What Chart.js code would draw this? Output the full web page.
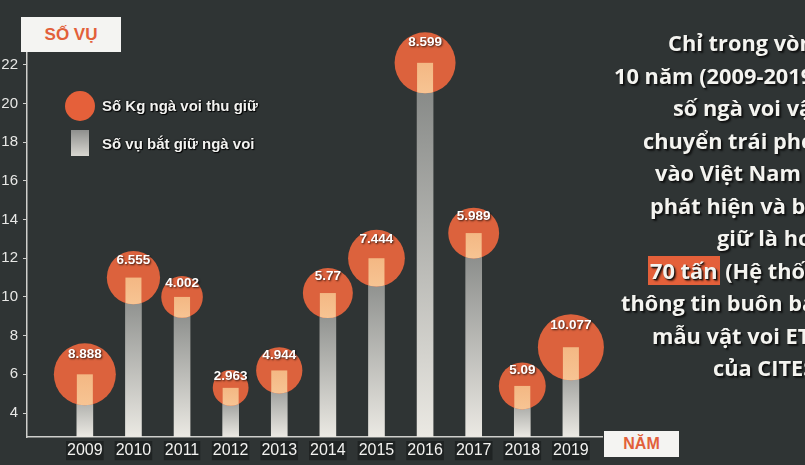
<!DOCTYPE html>
<html>
<head>
<meta charset="utf-8">
<script src="https://cdn.jsdelivr.net/npm/chart.js"></script>
<style>
  html, body { margin: 0; padding: 0; background: #2f3434; overflow: hidden; }
  #wrap { position: relative; width: 805px; height: 465px; overflow: hidden; background: #2f3434; }
  canvas { position: absolute; left: 0; top: 0; }
  .box { position: absolute; background: #f4f4f2; color: #e2603a; font-family: "Liberation Sans", Arial, sans-serif; font-weight: bold; text-align: center; }
  .leg { position: absolute; color: #f2f2f0; font-family: "Liberation Sans", Arial, sans-serif; font-weight: bold; font-size: 15px; line-height: 20px; white-space: nowrap; text-shadow: 1px 1px 1px #000, 0 0 2px #000; }
  .ln { position: absolute; color: #f4f4f0; font-family: "Open Sans", sans-serif; font-weight: 700; font-size: 21.8px; line-height: 26px; white-space: nowrap; text-shadow: 1px 1px 1px #111, 2px 2px 2px rgba(0,0,0,0.6); }
  .hl { background: #e4603a; padding: 0 2px; margin-left: -2px; }
</style>
</head>
<body>
<div id="wrap">
  <canvas id="c" width="805" height="465"></canvas>
  <div class="box" style="left:21px;top:17px;width:100px;height:35px;line-height:35px;font-size:17px;">SỐ VỤ</div>
  <div class="box" style="left:604px;top:431px;width:75px;height:26px;line-height:26px;font-size:16px;">NĂM</div>
  <div style="position:absolute;left:65px;top:91px;width:30px;height:30px;border-radius:50%;background:#e5603a;"></div>
  <div class="leg" style="left:102px;top:96px;">Số Kg ngà voi thu giữ</div>
  <div style="position:absolute;left:71px;top:130px;width:18px;height:26px;background:linear-gradient(to bottom,#8e8f8d,#d9d7d1);"></div>
  <div class="leg" style="left:102px;top:134px;">Số vụ bắt giữ ngà voi</div>
  <div class="ln" style="left:668px;top:30px;">Chỉ trong vòng</div>
  <div class="ln" style="left:614px;top:63px;">10 năm (2009-2019),</div>
  <div class="ln" style="left:673px;top:95px;">số ngà voi vận</div>
  <div class="ln" style="left:643px;top:128px;">chuyển trái phép</div>
  <div class="ln" style="left:655px;top:160px;">vào Việt Nam bị</div>
  <div class="ln" style="left:650px;top:193px;">phát hiện và bắt</div>
  <div class="ln" style="left:717px;top:225px;">giữ là hơn</div>
  <div class="ln" style="left:650px;top:258px;"><span class="hl">70 tấn</span> (Hệ thống</div>
  <div class="ln" style="left:621px;top:290px;">thông tin buôn bán</div>
  <div class="ln" style="left:652px;top:323px;">mẫu vật voi ETIS</div>
  <div class="ln" style="left:713px;top:355px;">của CITES)</div>
</div>
<script>
// ---- data ----
const years = [2009, 2010, 2011, 2012, 2013, 2014, 2015, 2016, 2017, 2018, 2019];
const yearLabels = ['2009', '2010', '2011', '2012', '2013', '2014', '2015', '2016', '2017', '2018', '2019'];
const cases = [6, 11, 10, 5.3, 6.2, 10.2, 12, 22.1, 13.3, 5.4, 7.4];      // Số vụ bắt giữ ngà voi
const kgTonnes = [8.888, 6.555, 4.002, 2.963, 4.944, 5.77, 7.444, 8.599, 5.989, 5.09, 10.077]; // Số Kg ngà voi thu giữ (nghìn kg)
const kgLabels = ['8.888', '6.555', '4.002', '2.963', '4.944', '5.77', '7.444', '8.599', '5.989', '5.09', '10.077'];
const yTicks = [4, 6, 8, 10, 12, 14, 16, 18, 20, 22];

const FONT = '"Liberation Sans", Arial, sans-serif';
const AXIS = '#cfcfcc';

const overlayPlugin = {
  id: 'overlay',
  afterDatasetsDraw(chart) {
    const ctx = chart.ctx;
    const bub = chart.getDatasetMeta(0);
    const bars = chart.getDatasetMeta(1);
    bub.data.forEach((pt, i) => {
      const bar = bars.data[i];
      const r = pt.options.radius;
      const p = bar.getProps(['x', 'y', 'base', 'width'], true);
      ctx.save();
      ctx.beginPath();
      ctx.arc(pt.x, pt.y, r, 0, Math.PI * 2);
      ctx.clip();
      const g = ctx.createLinearGradient(0, pt.y - r, 0, pt.y + r);
      g.addColorStop(0, '#f0ab74');
      g.addColorStop(1, '#f7c493');
      ctx.fillStyle = g;
      ctx.fillRect(p.x - p.width / 2, p.y, p.width, p.base - p.y);
      ctx.restore();
    });
    ctx.save();
    ctx.font = 'bold 13.5px ' + FONT;
    ctx.textAlign = 'center';
    ctx.textBaseline = 'middle';
    ctx.fillStyle = '#ffffff';
    ctx.shadowColor = 'rgba(0,0,0,0.75)';
    ctx.shadowBlur = 2;
    ctx.shadowOffsetX = 1;
    ctx.shadowOffsetY = 1;
    bub.data.forEach((pt, i) => {
      const r = pt.options.radius;
      ctx.fillText(kgLabels[i], pt.x, pt.y - r * 0.66);
    });
    ctx.restore();
  }
};

new Chart(document.getElementById('c'), {
  type: 'bar',
  data: {
    datasets: [
      {
        type: 'bubble',
        label: 'Số Kg ngà voi thu giữ',
        data: years.map((y, i) => ({ x: y, y: cases[i] })),
        radius: (c) => 10.4 * Math.sqrt(kgTonnes[c.dataIndex]),
        backgroundColor: '#dc623d',
        borderWidth: 0,
        hoverRadius: 0,
        clip: false,
        order: 1
      },
      {
        type: 'bar',
        label: 'Số vụ bắt giữ ngà voi',
        data: years.map((y, i) => ({ x: y, y: cases[i] })),
        barThickness: 16,
        borderWidth: 0,
        backgroundColor: (c) => {
          const ch = c.chart;
          if (c.type !== 'data' || !ch.chartArea || !ch.scales.y) return '#b5b5b2';
          const ys = ch.scales.y;
          const top = ys.getPixelForValue(c.parsed.y);
          const bot = ys.getPixelForValue(ys.min);
          const g = ch.ctx.createLinearGradient(0, top, 0, bot);
          g.addColorStop(0, '#808381');
          g.addColorStop(1, '#ebe9e3');
          return g;
        },
        order: 2
      }
    ]
  },
  options: {
    responsive: false,
    animation: false,
    events: [],
    layout: { autoPadding: false, padding: { left: 0, right: 203, top: 52, bottom: 0 } },
    plugins: { legend: { display: false }, tooltip: { enabled: false } },
    scales: {
      x: {
        type: 'linear',
        min: 2007.81,
        max: 2019.64,
        offset: false,
        afterBuildTicks: (axis) => { axis.ticks = years.map(v => ({ value: v })); },
        afterFit: (axis) => { axis.height = 28; },
        grid: { display: false, drawTicks: false },
        border: { display: true, color: AXIS, width: 1.5 },
        ticks: {
          callback: (v) => { const i = years.indexOf(v); return i >= 0 ? yearLabels[i] : ''; },
          color: '#f2f2f0',
          font: { family: FONT, size: 16 },
          padding: 4,
          maxRotation: 0,
          autoSkip: false,
          showLabelBackdrop: true,
          backdropColor: 'rgba(15,17,17,0.5)',
          backdropPadding: { top: 0, bottom: 0, left: 1, right: 1 }
        }
      },
      y: {
        type: 'linear',
        min: 2.76,
        max: 22.66,
        afterBuildTicks: (axis) => { axis.ticks = yTicks.map(v => ({ value: v })); },
        afterFit: (axis) => { axis.width = 27; },
        grid: { display: true, drawOnChartArea: false, drawTicks: true, tickLength: 4, color: AXIS, lineWidth: 1 },
        border: { display: true, color: AXIS, width: 1.5 },
        ticks: {
          color: '#e8e8e6',
          font: { family: FONT, size: 15 },
          padding: 5
        }
      }
    }
  },
  plugins: [overlayPlugin]
});
</script>
</body>
</html>
